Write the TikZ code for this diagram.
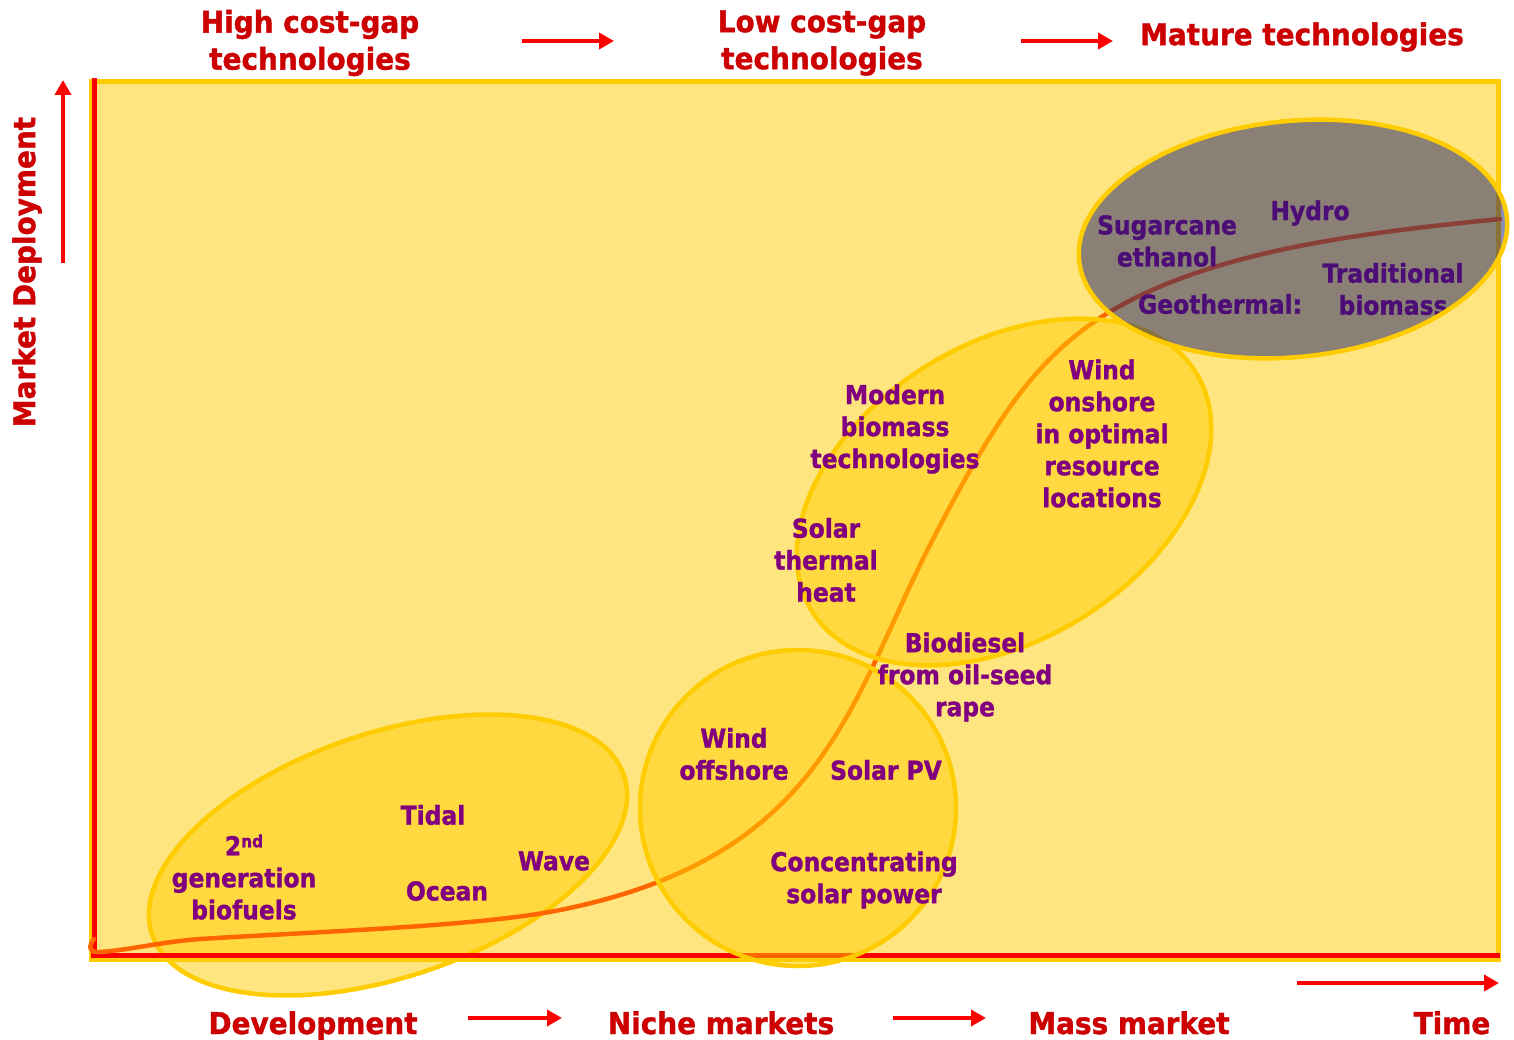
\documentclass[tikz,border=0pt]{standalone}
\usepackage{fontspec}
\usetikzlibrary{arrows.meta}
\newfontfamily\hdfont{DejaVu Sans Bold}[FakeStretch=0.93, FakeBold=1.2]
\newfontfamily\tgfont{DejaVu Sans Bold}[FakeStretch=0.9, FakeBold=1.2]
\definecolor{axisred}{HTML}{FF0000}
\definecolor{headred}{HTML}{CC0000}
\definecolor{gold}{HTML}{FFCC00}
\definecolor{plum}{HTML}{800080}
\definecolor{curveorange}{HTML}{FF6600}
\definecolor{navyshade}{RGB}{25,28,110}
\tikzset{
  head/.style={text=headred, font=\hdfont\fontsize{30}{37}\selectfont, align=center, inner sep=0pt},
  tech/.style={text=plum, font=\tgfont\fontsize{26}{32}\selectfont, align=center, inner sep=0pt},
  flow/.style={draw=axisred, line width=4.5pt, -{Triangle[length=15pt,width=16pt]}},
  zone/.style={draw=gold, line width=4.5pt, fill=gold, fill opacity=0.5},
  axisline/.style={draw=axisred, line width=5pt},
}
\begin{document}
\begin{tikzpicture}[x=1pt,y=-1pt]
\useasboundingbox (0,0) rectangle (1514,1040);

% plotting area
\draw[draw=gold, line width=5pt, fill=gold, fill opacity=0.5] (91,82) rectangle (1498,959);

% development zone (behind the curve)
\draw[zone, rotate around={18.7:(388,855)}] (388,855) ellipse [x radius=249pt, y radius=122pt];

% axes
\coordinate (ytop) at (94.5,78);
\coordinate (ybottom) at (94.5,958);
\coordinate (xstart) at (91,955.5);
\coordinate (xend) at (1500,955.5);
\draw[axisline] (ytop) -- (ybottom);
\draw[axisline] (xstart) -- (xend);

% deployment S-curve
\draw[curveorange, line width=4.5pt, line cap=round, line join=round]
  (94,939) .. controls (88,946) and (89,953) .. (100,952)
  .. controls (130,950) and (160,942) .. (200,939)
  .. controls (330,931) and (480,926) .. (560,910)
  .. controls (825,857) and (850,701) .. (930,545)
  .. controls (1005,399) and (1050,336) .. (1150,291)
  .. controls (1250,246) and (1380,231) .. (1500,219);

% niche market and mass market zones
\draw[zone] (798,808) circle [radius=158pt];
\draw[zone, rotate around={31.9:(1004,492)}] (1004,492) ellipse [x radius=226pt, y radius=148pt];

% technology labels
\node[tech] (bio2) at (244,877) {2\raisebox{8pt}{\fontsize{17}{17}\selectfont nd}\\generation\\biofuels};
\node[tech] (tidal) at (433,815) {Tidal};
\node[tech] (ocean) at (447,891) {Ocean};
\node[tech] (wave) at (554,861) {Wave};
\node[tech] (windoff) at (734,754) {Wind\\offshore};
\node[tech] (pv) at (886,770) {Solar PV};
\node[tech] (csp) at (864,880) {Concentrating\\solar power};
\node[tech] (biodiesel) at (965,677) {Biodiesel\\from oil-seed\\rape};
\node[tech] (sth) at (826,560) {Solar\\thermal\\heat};
\node[tech] (modbio) at (895,429) {Modern\\biomass\\technologies};
\node[tech] (windon) at (1102,433.5) {Wind\\onshore\\in optimal\\resource\\locations};
\node[tech] (sugar) at (1167,241) {Sugarcane\\ethanol};
\node[tech] (hydro) at (1310,213) {Hydro};
\node[tech] (tradbio) at (1393,289) {Traditional\\biomass};
\node[tech] (geo) at (1220,304) {Geothermal:};

% mature technologies zone (over everything)
\draw[draw=gold, line width=4.5pt, fill=navyshade, fill opacity=0.5, rotate around={5.7:(1293,239)}]
  (1293,239) ellipse [x radius=215pt, y radius=118pt];

% y axis title and arrow
\node[head, rotate=90] (ytitle) at (27,272) {Market Deployment};
\coordinate (yarrowfoot) at (63,263);
\coordinate (yarrowtip) at (63,80);
\draw[flow] (yarrowfoot) -- (yarrowtip);

% technology stages
\node[head] (high) at (310,43) {High cost-gap\\technologies};
\node[head] (low) at (822,43) {Low cost-gap\\technologies};
\node[head] (mature) at (1302,37) {Mature technologies};
\coordinate (t1a) at (522,41);
\coordinate (t1b) at (614,41);
\coordinate (t2a) at (1021,41);
\coordinate (t2b) at (1113,41);
\draw[flow] (t1a) -- (t1b);
\draw[flow] (t2a) -- (t2b);

% market stages
\node[head, anchor=base] (dev) at (313,1034) {Development};
\node[head, anchor=base] (niche) at (721,1034) {Niche markets};
\node[head, anchor=base] (mass) at (1129,1034) {Mass market};
\node[head, anchor=base] (time) at (1452,1034) {Time};
\coordinate (m1a) at (468,1018);
\coordinate (m1b) at (562,1018);
\coordinate (m2a) at (893,1018);
\coordinate (m2b) at (986,1018);
\draw[flow] (m1a) -- (m1b);
\draw[flow] (m2a) -- (m2b);
\coordinate (timea) at (1297,983);
\coordinate (timeb) at (1499,983);
\draw[flow] (timea) -- (timeb);
\end{tikzpicture}
\end{document}
